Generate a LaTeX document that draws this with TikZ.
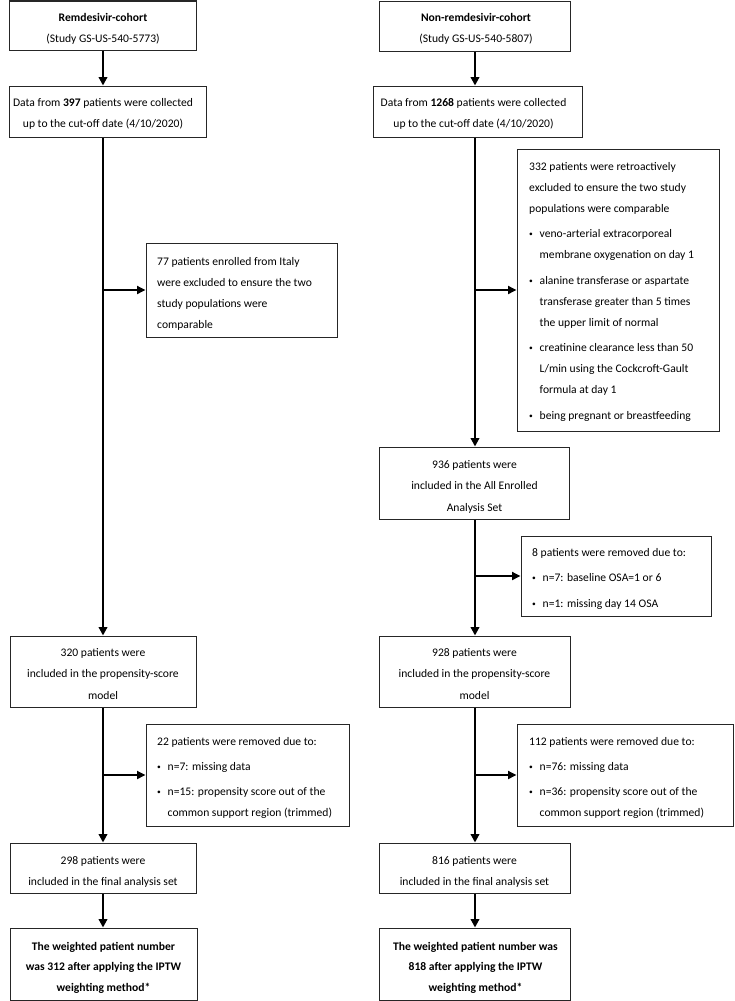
\documentclass[tikz,border=0pt]{standalone}
\usepackage{fontspec}
\setmainfont{Carlito}
\usetikzlibrary{arrows.meta}
\newcommand\fst{\rule{0pt}{10pt}}
\newcommand\mybul{\makebox[10.5pt][l]{\raisebox{0.9pt}{\fontsize{7.5pt}{7.5pt}\selectfont\textbullet}}}
\newcommand\myind{\hspace*{10.5pt}}
\begin{document}
\begin{tikzpicture}[x=1pt,y=-1pt,
  box/.style={draw=black!85, line width=1pt, inner sep=0pt, rectangle},
  txt/.style={inner sep=0pt, font=\fontsize{11.6pt}{21.5pt}\selectfont},
  txtl/.style={inner sep=0pt, anchor=north west, align=left, font=\fontsize{11.6pt}{21pt}\selectfont},
  txtc/.style={txt, anchor=north, align=center},
  trunk/.style={line width=2.5pt, -{Triangle[length=8.5pt,width=8.5pt]}},
  branch/.style={line width=1.8pt, -{Triangle[length=8.5pt,width=8pt]}},
]
\useasboundingbox (0,0) rectangle (735,1001);
\coordinate (tl) at (103,0);
\coordinate (tr) at (475,0);

% ---------- left column ----------
\node[box, minimum width=187pt, minimum height=49pt] (a1) at (102.5,25.5) {};
\node[txtc] (a1t) at (103,11) {\fst\textbf{Remdesivir-cohort}\\(Study GS-US-540-5773)};

\node[box, minimum width=197pt, minimum height=51pt] (a2) at (107.5,111.5) {};
\node[txtc] (a2t) at (103,96) {\fst Data from \textbf{397} patients were collected\\up to the cut-off date (4/10/2020)};

\node[box, minimum width=191pt, minimum height=94pt] (b1) at (241.5,290) {};
\node[txtl] (b1t) at (157,255) {\fst 77 patients enrolled from Italy\\were excluded to ensure the two\\study populations were\\comparable};

\node[box, minimum width=186pt, minimum height=71pt] (a3) at (103,671.5) {};
\node[txtc] (a3t) at (103,646) {\fst 320 patients were\\included in the propensity-score\\model};

\node[box, minimum width=203pt, minimum height=102pt] (b2) at (247.5,775) {};
\node[txtl] (b2t) at (157,735) {\fst 22 patients were removed due to:\\[4pt]\mybul n=7: missing data\\[4pt]\mybul n=15: propensity score out of the\\\myind common support region (trimmed)};

\node[box, minimum width=186pt, minimum height=50pt] (a4) at (103,868) {};
\node[txtc] (a4t) at (103,854) {\fst 298 patients were\\included in the final analysis set};

\node[box, minimum width=187pt, minimum height=72pt] (a5) at (103.5,964) {};
\node[txtc, font=\fontsize{11.6pt}{20.5pt}\selectfont\bfseries] (a5t) at (103.5,940) {\fst The weighted patient number\\was 312 after applying the IPTW\\weighting method*};

% ---------- right column ----------
\node[box, minimum width=191pt, minimum height=50pt] (c1) at (474.5,26) {};
\node[txtc] (c1t) at (476,11) {\fst\textbf{Non-remdesivir-cohort}\\(Study GS-US-540-5807)};

\node[box, minimum width=209pt, minimum height=51pt] (c2) at (477.5,111.5) {};
\node[txtc] (c2t) at (473.5,96) {\fst Data from \textbf{1268} patients were collected\\up to the cut-off date (4/10/2020)};

\node[box, minimum width=202pt, minimum height=282pt] (d1) at (618,290) {};
\node[txtl] (d1t) at (529,160) {\fst 332 patients were retroactively\\excluded to ensure the two study\\populations were comparable\\[4.5pt]
\mybul veno-arterial extracorporeal\\\myind membrane oxygenation on day 1\\[4.5pt]
\mybul alanine transferase or aspartate\\\myind transferase greater than 5 times\\\myind the upper limit of normal\\[4.5pt]
\mybul creatinine clearance less than 50\\\myind L/min using the Cockcroft-Gault\\\myind formula at day 1\\[4.5pt]
\mybul being pregnant or breastfeeding};

\node[box, minimum width=190pt, minimum height=72pt] (c3) at (474,483) {};
\node[txtc] (c3t) at (474.5,458) {\fst 936 patients were\\included in the All Enrolled\\Analysis Set};

\node[box, minimum width=190pt, minimum height=80pt] (d2) at (616,576) {};
\node[txtl] (d2t) at (532,546) {\fst 8 patients were removed due to:\\[4.5pt]\mybul n=7: baseline OSA=1 or 6\\[4.5pt]\mybul n=1: missing day 14 OSA};

\node[box, minimum width=191pt, minimum height=71pt] (c4) at (474.5,671.5) {};
\node[txtc] (c4t) at (474.5,646) {\fst 928 patients were\\included in the propensity-score\\model};

\node[box, minimum width=216pt, minimum height=102pt] (d3) at (625,775) {};
\node[txtl] (d3t) at (529,735) {\fst 112 patients were removed due to:\\[4pt]\mybul n=76: missing data\\[4pt]\mybul n=36: propensity score out of the\\\myind common support region (trimmed)};

\node[box, minimum width=191pt, minimum height=50pt] (c5) at (474.5,868) {};
\node[txtc] (c5t) at (474.5,854) {\fst 816 patients were\\included in the final analysis set};

\node[box, minimum width=191pt, minimum height=72pt] (c6) at (474.5,964) {};
\node[txtc, font=\fontsize{11.6pt}{20.5pt}\selectfont\bfseries] (c6t) at (475.5,940) {\fst The weighted patient number was\\818 after applying the IPTW\\weighting method*};

% ---------- connectors left ----------
\draw[trunk] (tl |- a1.south) -- (tl |- a2.north);
\draw[trunk] (tl |- a2.south) -- (tl |- a3.north);
\draw[branch] (tl |- b1.west) -- (b1.west);
\draw[trunk] (tl |- a3.south) -- (tl |- a4.north);
\draw[branch] (tl |- b2.west) -- (b2.west);
\draw[trunk] (tl |- a4.south) -- (tl |- a5.north);

% ---------- connectors right ----------
\draw[trunk] (tr |- c1.south) -- (tr |- c2.north);
\draw[trunk] (tr |- c2.south) -- (tr |- c3.north);
\draw[branch] (tr |- d1.west) -- (d1.west);
\draw[trunk] (tr |- c3.south) -- (tr |- c4.north);
\draw[branch] (tr |- d2.west) -- (d2.west);
\draw[trunk] (tr |- c4.south) -- (tr |- c5.north);
\draw[branch] (tr |- d3.west) -- (d3.west);
\draw[trunk] (tr |- c5.south) -- (tr |- c6.north);
\end{tikzpicture}
\end{document}
